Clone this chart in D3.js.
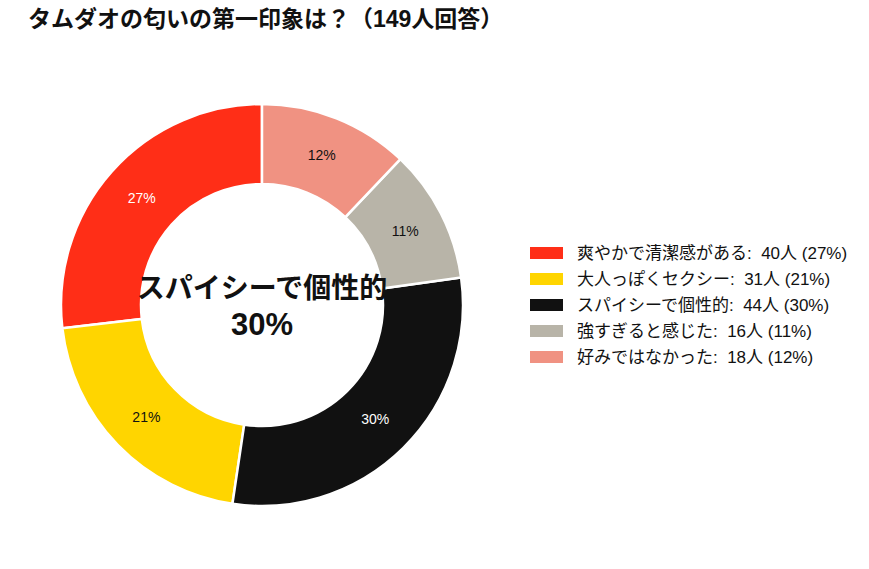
<!DOCTYPE html>
<html>
<head>
<meta charset="utf-8">
<script src="https://cdn.jsdelivr.net/npm/d3@7"></script>
<style>
  body { margin: 0; background: #fff; }
  text { font-family: "Liberation Sans", "Noto Sans CJK JP", sans-serif; white-space: pre; }
</style>
</head>
<body>
<div id="chart"></div>
<script>
// Data
var categories = ["爽やかで清潔感がある", "大人っぽくセクシー", "スパイシーで個性的", "強すぎると感じた", "好みではなかった"];
var counts = [40, 31, 44, 16, 18];
var colors = ["#ff2e17", "#ffd500", "#111111", "#b8b4a8", "#f09282"];
var labelColors = ["#fff", "#111", "#fff", "#111", "#111"];
var titleText = "タムダオの匂いの第一印象は？（149人回答）";

var svgWidth = 869;
var svgHeight = 569;

var svg = d3.select("#chart")
  .append("svg")
  .attr("width", svgWidth)
  .attr("height", svgHeight);

var total = d3.sum(counts);
var data = categories.map(function(c, i) {
  return { name: c, value: counts[i], color: colors[i], labelColor: labelColors[i] };
});

var pct = function(v) { return Math.round(v / total * 100) + "%"; };

// Title
svg.append("text")
  .attr("x", 28)
  .attr("y", 27)
  .attr("font-size", 23)
  .attr("font-weight", "bold")
  .attr("fill", "#111")
  .text(titleText);

// Donut (counter-clockwise from 12 o'clock)
var cx = 262, cy = 305;
var outerR = 201, innerR = 121;

var pie = d3.pie()
  .sort(null)
  .value(d => d.value)
  .startAngle(0)
  .endAngle(-2 * Math.PI);

var arc = d3.arc().innerRadius(innerR).outerRadius(outerR);
var labelArc = d3.arc().innerRadius((innerR + outerR) / 2).outerRadius((innerR + outerR) / 2);

var chartGroup = svg.append("g")
  .attr("transform", `translate(${cx}, ${cy})`);

var arcs = pie(data);

chartGroup.selectAll("path")
  .data(arcs)
  .enter()
  .append("path")
  .attr("d", arc)
  .attr("fill", d => d.data.color)
  .attr("stroke", "#fff")
  .attr("stroke-width", 2.5);

chartGroup.selectAll(".slice-label")
  .data(arcs)
  .enter()
  .append("text")
  .attr("class", "slice-label")
  .attr("transform", d => `translate(${labelArc.centroid(d)})`)
  .attr("text-anchor", "middle")
  .attr("dy", "0.35em")
  .attr("font-size", 14)
  .attr("fill", d => d.data.labelColor)
  .text(d => pct(d.data.value));

// Center text: biggest category
var biggest = data[d3.maxIndex(counts)];
chartGroup.append("text")
  .attr("text-anchor", "middle")
  .attr("y", -7)
  .attr("font-size", 28)
  .attr("font-weight", "bold")
  .attr("fill", "#111")
  .text(biggest.name);

chartGroup.append("text")
  .attr("text-anchor", "middle")
  .attr("y", 30)
  .attr("font-size", 31)
  .attr("font-weight", "bold")
  .attr("fill", "#111")
  .text(pct(biggest.value));

// Legend
var legend = svg.append("g")
  .attr("transform", "translate(530, 247)");

var rows = legend.selectAll("g")
  .data(data)
  .enter()
  .append("g")
  .attr("transform", (d, i) => `translate(0, ${i * 26})`);

rows.append("rect")
  .attr("width", 33)
  .attr("height", 12)
  .attr("fill", d => d.color);

rows.append("text")
  .attr("x", 47)
  .attr("y", 6)
  .attr("dy", "0.36em")
  .attr("font-size", 17)
  .attr("fill", "#111")
  .text(d => `${d.name}:  ${d.value}人 (${pct(d.value)})`);
</script>
</body>
</html>
